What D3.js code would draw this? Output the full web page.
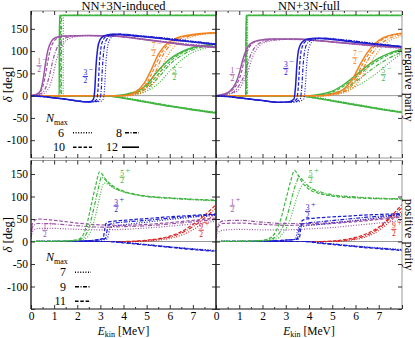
<!DOCTYPE html>
<html>
<head>
<meta charset="utf-8">
<script src="https://cdn.jsdelivr.net/npm/d3@7"></script>
<style>
  body { margin: 0; background: #fff; }
  text { font-family: "Liberation Serif", "Times New Roman", serif; }
</style>
</head>
<body>
<svg id="chart" width="415" height="338"></svg>
<script>
// Nmax values per parity
const nmaxNeg = [6, 8, 10, 12];
const nmaxPos = [7, 9, 11];
const titles = ["NN+3N-induced", "NN+3N-full"];
const energyTicks = [0, 1, 2, 3, 4, 5, 6, 7];
const degTicks = [-100, -50, 0, 50, 100, 150];

// phase shifts [E_kin, delta] -- negative parity, order 6, 8, 10, 12
const indJ1m = [
  [[0,0],[0.5,4],[0.75,15],[0.95,45],[1.1,80],[1.25,103],[1.45,120],[1.75,130],[2.3,134],[3.5,134],[5,126],[6.5,117],[8,111]],
  [[0,0],[0.4,4],[0.6,14],[0.8,45],[0.95,80],[1.1,104],[1.3,122],[1.6,131],[2.2,135],[3.5,134],[5,126],[6.5,116],[8,110]],
  [[0,0],[0.3,4],[0.45,12],[0.6,40],[0.72,75],[0.82,100],[0.97,120],[1.2,130],[1.6,134],[2.5,135],[3.5,134],[5,126],[6.5,116],[8,109]],
  [[0,0],[0.25,3],[0.4,10],[0.52,35],[0.62,70],[0.72,100],[0.87,121],[1.05,130],[1.4,134],[2.5,135],[3.5,134],[5,125],[6.5,115],[8,108]]
];
const indJ3m = [
  [[0,0],[0.5,-2],[1,-5],[1.5,-8],[2,-12],[2.6,-14],[3.0,-13],[3.12,-8],[3.18,15],[3.23,65],[3.3,105],[3.4,125],[3.57,134],[3.9,138],[4.8,134],[5.8,129],[6.8,123],[8,116]],
  [[0,0],[0.5,-2],[1,-5],[1.5,-8],[2,-12],[2.5,-14],[2.85,-13],[2.98,-8],[3.04,15],[3.09,65],[3.16,105],[3.26,125],[3.43,134],[3.8,138],[4.8,134],[5.8,129],[6.8,123],[8,116]],
  [[0,0],[0.5,-2],[1,-5],[1.5,-8],[2,-12],[2.45,-14],[2.72,-13],[2.84,-8],[2.9,15],[2.95,65],[3.02,105],[3.12,125],[3.29,134],[3.65,138],[4.6,134],[5.6,129],[6.6,123],[8,115]],
  [[0,0],[0.5,-2],[1,-5],[1.5,-8],[2,-12],[2.4,-14],[2.6,-13],[2.7,-8],[2.76,15],[2.81,65],[2.88,105],[2.98,125],[3.15,134],[3.5,138],[4.5,134],[5.5,129],[6.5,123],[8,115]]
];
const indJ5mStep = [
  [[0,0],[1.39,0],[1.4,180],[8,180]],
  [[0,0],[1.31,0],[1.32,180],[8,180]],
  [[0,0],[1.26,0],[1.27,180],[8,180]],
  [[0,0],[1.22,0],[1.23,180],[8,180]]
];
const indJ5mDown = [
  [[0,0],[3.4,0],[4,-4],[5,-13],[6,-22],[7,-30],[8,-37]],
  [[0,0],[3.3,0],[4,-5],[5,-14],[6,-23],[7,-31],[8,-38]],
  [[0,0],[3.2,0],[4,-5],[5,-14],[6,-23],[7,-31],[8,-38]],
  [[0,0],[3.2,0],[4,-6],[5,-15],[6,-24],[7,-32],[8,-39]]
];
const indJ5mRise = [
  [[0,0],[4,0],[4.5,3],[5,10],[5.5,27],[6,55],[6.5,80],[7,97],[7.5,106],[8,111]],
  [[0,0],[3.8,0],[4.5,5],[5,16],[5.5,40],[6,70],[6.5,90],[7,103],[7.5,110],[8,114]],
  [[0,0],[3.7,0],[4.5,6],[5,20],[5.5,48],[6,76],[6.5,95],[7,106],[7.5,112],[8,115]],
  [[0,0],[3.6,0],[4.5,8],[5,24],[5.4,50],[6,82],[6.5,98],[7,108],[7.5,113],[8,116]]
];
const indJ7m = [
  [[0,0],[4.2,0],[4.8,6],[5.2,20],[5.55,50],[5.85,85],[6.2,110],[6.6,125],[7,133],[7.5,138],[8,140]],
  [[0,0],[4.1,0],[4.7,7],[5.1,25],[5.4,55],[5.7,90],[6.0,112],[6.4,126],[7,135],[7.5,139],[8,141]],
  [[0,0],[4,0],[4.6,8],[5.0,28],[5.3,58],[5.6,92],[5.9,113],[6.3,127],[7,136],[7.5,139],[8,141]],
  [[0,0],[4,0],[4.5,8],[4.9,28],[5.2,58],[5.5,92],[5.8,113],[6.2,127],[7,137],[7.5,140],[8,141]]
];

const fullJ1m = [
  [[0,0],[0.5,3],[0.9,10],[1.15,28],[1.35,50],[1.5,76],[1.65,96],[1.85,111],[2.2,121],[3,126],[4,125],[5,120],[6,115],[7,110],[8,106]],
  [[0,0],[0.45,3],[0.8,10],[1.05,28],[1.25,50],[1.4,78],[1.55,98],[1.75,113],[2.1,122],[2.8,126],[3.5,126],[4.5,123],[6,116],[7,111],[8,107]],
  [[0,0],[0.35,3],[0.65,10],[0.92,28],[1.08,50],[1.22,80],[1.35,100],[1.52,115],[1.9,124],[2.6,127],[3.5,127],[4.5,123],[6,116],[7,111],[8,107]],
  [[0,0],[0.3,3],[0.6,10],[0.85,28],[1.0,50],[1.15,80],[1.28,100],[1.45,115],[1.8,124],[2.5,127],[3.5,127],[4.5,123],[6,116],[7,112],[8,108]]
];
const fullJ3m = [
  [[0,0],[0.5,-2],[1,-5],[1.5,-8],[2,-11],[2.8,-15],[3.5,-14],[3.77,-8],[3.84,20],[3.9,70],[3.97,102],[4.12,120],[4.37,127],[4.7,129],[5.4,126],[6.4,120],[7.2,115],[8,110]],
  [[0,0],[0.5,-2],[1,-5],[1.5,-8],[2,-11],[2.7,-15],[3.35,-14],[3.62,-8],[3.69,20],[3.75,70],[3.82,102],[3.97,120],[4.22,127],[4.6,129],[5.3,126],[6.3,120],[7.1,115],[8,110]],
  [[0,0],[0.5,-2],[1,-5],[1.5,-8],[2,-11],[2.65,-15],[3.2,-14],[3.47,-8],[3.54,20],[3.6,70],[3.67,102],[3.82,120],[4.07,127],[4.4,129],[5.1,126],[6.1,120],[7,115],[8,110]],
  [[0,0],[0.5,-2],[1,-5],[1.5,-8],[2,-11],[2.6,-15],[3.1,-14],[3.35,-8],[3.42,20],[3.48,70],[3.55,102],[3.7,120],[3.95,127],[4.3,129],[5,126],[6,120],[7,115],[8,110]]
];
const fullJ5mStep = [
  [[0,0],[1.35,0],[1.36,180],[8,180]],
  [[0,0],[1.32,0],[1.33,180],[8,180]],
  [[0,0],[1.3,0],[1.31,180],[8,180]],
  [[0,0],[1.28,0],[1.29,180],[8,180]]
];
const fullJ5mDown = [
  [[0,0],[3.7,0],[4.2,-3],[5,-10],[6,-19],[7,-28],[8,-36]],
  [[0,0],[3.6,0],[4.1,-3],[5,-11],[6,-20],[7,-29],[8,-37]],
  [[0,0],[3.5,0],[4,-3],[5,-12],[6,-21],[7,-30],[8,-38]],
  [[0,0],[3.5,0],[4,-3],[5,-12],[6,-21],[7,-30],[8,-38]]
];
const fullJ5mRise = [
  [[0,0],[4.5,0],[5,3],[5.5,9],[6,20],[6.5,35],[7,54],[7.5,76],[8,95]],
  [[0,0],[4.3,0],[4.8,3],[5.3,10],[5.8,24],[6.3,43],[6.8,63],[7.3,80],[7.7,91],[8,98]],
  [[0,0],[4.1,0],[4.6,3],[5.1,10],[5.6,25],[6.1,45],[6.6,66],[7.1,83],[7.5,93],[8,102]],
  [[0,0],[4,0],[4.5,3],[5,10],[5.5,25],[6,45],[6.5,67],[7,84],[7.5,96],[8,104]]
];
const fullJ7m = [
  [[0,0],[4.8,0],[5.3,4],[5.8,14],[6.2,36],[6.55,66],[6.85,90],[7.15,110],[7.5,124],[8,134]],
  [[0,0],[4.7,0],[5.2,4],[5.7,15],[6.1,40],[6.4,68],[6.7,93],[7.0,112],[7.4,127],[7.8,135],[8,137]],
  [[0,0],[4.6,0],[5.1,4],[5.6,15],[6.0,40],[6.3,70],[6.6,96],[6.9,115],[7.3,130],[7.7,137],[8,139]],
  [[0,0],[4.5,0],[5,4],[5.5,15],[5.9,40],[6.2,70],[6.5,96],[6.8,115],[7.2,130],[7.6,137],[8,140]]
];

// positive parity, order 7, 9, 11
const indJ1p = [
  [[0,5],[0.06,22],[0.3,29],[1,29],[2,27],[3,26],[4,27],[5,30],[6,34],[7,39],[8,45]],
  [[0,8],[0.06,32],[0.3,40],[1,39],[2,35],[3,32],[4,33],[5,35],[6,39],[7,44],[8,49]],
  [[0,10],[0.06,40],[0.3,50],[1,47],[2,41],[3,37],[4,36],[5,38],[6,42],[7,47],[8,52]]
];
const indJ3pUp = [
  [[0,0],[2,1],[3,3],[3.3,6],[3.36,18],[3.42,30],[3.6,34],[4,37],[5,43],[6,49],[7,54],[8,58]],
  [[0,0],[2,1],[3,4],[3.22,7],[3.28,22],[3.34,36],[3.5,40],[4,43],[5,47],[6,52],[7,56],[8,60]],
  [[0,0],[2,1],[2.9,4],[3.12,7],[3.18,25],[3.24,40],[3.4,44],[4,47],[5,51],[6,55],[7,58],[8,61]]
];
const indJ3pDown = [
  [[0,0],[3.4,0],[4,-2],[5,-7],[6,-12],[7,-16],[8,-20]],
  [[0,0],[3.4,0],[4,-2],[5,-7],[6,-12],[7,-17],[8,-21]],
  [[0,0],[3.3,0],[4,-3],[5,-8],[6,-13],[7,-18],[8,-22]]
];
const indJ5p = [
  [[0,0],[1.5,1],[2,2],[2.4,8],[2.6,25],[2.8,60],[3.0,105],[3.15,130],[3.3,128],[3.6,118],[4,110],[4.5,104],[5,100],[6,96],[7,93],[8,91]],
  [[0,0],[1.5,1],[2,3],[2.3,10],[2.5,30],[2.7,70],[2.9,115],[3.05,143],[3.15,140],[3.4,126],[4,111],[4.5,104],[5,100],[6,96],[7,93],[8,91]],
  [[0,0],[1.5,1],[2,4],[2.2,10],[2.4,35],[2.6,80],[2.8,125],[2.97,155],[3.07,150],[3.25,137],[3.5,125],[4,112],[4.5,105],[5,101],[6,97],[7,94],[8,92]]
];
const indJ9p = [
  [[0,0],[4.5,0],[5.5,3],[6,7],[6.5,14],[7,26],[7.5,43],[8,64]],
  [[0,0],[4.2,0],[5,2],[5.5,5],[6,10],[6.5,19],[7,33],[7.5,52],[8,74]],
  [[0,0],[4,0],[5,3],[5.5,6],[6,12],[6.5,22],[7,38],[7.5,58],[8,82]]
];

const fullJ1p = [
  [[0,5],[0.06,18],[0.3,25],[1,27],[2,26],[3,26],[4,28],[5,31],[6,36],[7,41],[8,47]],
  [[0,8],[0.06,35],[0.3,46],[1,47],[2,43],[3,40],[4,40],[5,42],[6,46],[7,51],[8,56]],
  [[0,8],[0.06,30],[0.3,40],[1,41],[2,38],[3,36],[4,37],[5,40],[6,44],[7,49],[8,54]]
];
const fullJ3pUp = [
  [[0,0],[2,1],[3,3],[3.42,5],[3.48,18],[3.55,30],[3.8,34],[4.5,38],[5.5,44],[6.5,50],[7.5,56],[8,58]],
  [[0,0],[2,1],[3,3],[3.5,6],[3.56,22],[3.62,36],[3.8,40],[4.5,44],[5.5,49],[6.5,54],[7.5,58],[8,60]],
  [[0,0],[2,1],[3,3],[3.58,6],[3.64,28],[3.7,46],[3.9,50],[4.5,53],[5.5,56],[6.5,59],[7.5,61],[8,62]]
];
const fullJ3pDown = [
  [[0,0],[3.9,0],[4.5,-3],[5.5,-8],[6.5,-12],[7.5,-16],[8,-18]],
  [[0,0],[3.8,0],[4.5,-3],[5.5,-8],[6.5,-13],[7.5,-17],[8,-19]],
  [[0,0],[3.8,0],[4.5,-4],[5.5,-9],[6.5,-14],[7.5,-18],[8,-20]]
];
const fullJ5p = [
  [[0,0],[2,1],[2.6,6],[2.9,20],[3.2,50],[3.4,85],[3.6,115],[3.75,127],[3.9,124],[4.2,114],[4.6,106],[5,102],[6,98],[7,96],[8,95]],
  [[0,0],[2,2],[2.5,8],[2.8,25],[3.05,55],[3.25,95],[3.45,130],[3.58,144],[3.72,137],[4,122],[4.5,110],[5,104],[6,99],[7,96],[8,95]],
  [[0,0],[1.5,1],[2,3],[2.4,10],[2.6,25],[2.8,52],[3.0,92],[3.2,132],[3.38,158],[3.5,150],[3.7,132],[4,116],[4.5,106],[5,101],[6,97],[7,95],[8,94]]
];
const fullJ9p = [
  [[0,0],[5,0],[5.8,3],[6.3,8],[6.8,18],[7.2,32],[7.6,50],[8,68]],
  [[0,0],[4.8,0],[5.6,3],[6.2,9],[6.7,19],[7.1,33],[7.5,52],[8,75]],
  [[0,0],[4.5,0],[5.5,4],[6,9],[6.5,18],[7,32],[7.5,55],[8,82]]
];

// channel labels: [channel, 2J, parity sign, E, delta]
const labelsIndNeg = [["j1","1","\u2212",0.35,67],["j3","3","\u2212",2.35,43],["j7","7","\u2212",5.3,103],["j5","5","\u2212",6.2,49]];
const labelsFullNeg = [["j1","1","\u2212",0.7,47],["j3","3","\u2212",3.0,61],["j7","7","\u2212",5.97,85],["j5","5","\u2212",7.2,47]];
const labelsIndPos = [["j5","5","+",3.94,143],["j3","3","+",3.68,79],["j1","1","+",0.6,25],["j9","9","+",7.36,25]];
const labelsFullPos = [["j5","5","+",4.07,143],["j3","3","+",3.94,67],["j1","1","+",0.7,79],["j9","9","+",7.65,27]];

const colors = { j1: "#9b55a6", j3: "#1c1cd0", j5: "#3fb53f", j7: "#f28220", j9: "#d82222" };
const dashes = { 6: "1,1.6", 7: "1,1.6", 8: "4,1.5,1,1.5", 9: "4,1.5,1,1.5", 10: "3.5,1.8", 11: "3.5,1.8", 12: null };

const svg = d3.select("#chart");

const xLeft = d3.scaleLinear().domain([0, 8]).range([31, 216]);
const xRight = d3.scaleLinear().domain([0, 8]).range([216, 402]);
const yTop = d3.scaleLinear().domain([-140, 190]).range([158, 11]);
const yBot = d3.scaleLinear().domain([-150, 180]).range([309, 160.5]);

let clipId = 0;
function panel(x, y, channels, nmaxList, labels, showY, showX) {
  const g = svg.append("g");
  const [x0, x1] = x.range();
  const [y1, y0] = y.range();
  const id = "clip" + (clipId++);
  g.append("clipPath").attr("id", id).append("rect")
    .attr("x", x0).attr("y", y0).attr("width", x1 - x0).attr("height", y1 - y0);

  g.append("line").attr("x1", x0).attr("x2", x1).attr("y1", y(0)).attr("y2", y(0))
    .attr("stroke", "#999").attr("stroke-width", 1);

  const line = d3.line().x(d => x(d[0])).y(d => y(d[1])).curve(d3.curveMonotoneX);
  const plot = g.append("g").attr("clip-path", `url(#${id})`);
  channels.forEach(([key, curves]) => {
    curves.forEach((pts, i) => {
      const n = nmaxList[i];
      plot.append("path")
        .attr("d", line(pts))
        .attr("fill", "none")
        .attr("stroke", colors[key])
        .attr("stroke-width", dashes[n] ? 1.2 : 1.5)
        .attr("stroke-dasharray", dashes[n]);
    });
  });

  // frame
  g.append("line").attr("x1", x0).attr("x2", x1).attr("y1", y0).attr("y2", y0).attr("stroke", "#999");
  g.append("line").attr("x1", x1).attr("x2", x1).attr("y1", y0).attr("y2", y1).attr("stroke", "#999");
  g.append("line").attr("x1", x0).attr("x2", x1).attr("y1", y1).attr("y2", y1)
    .attr("stroke", showX ? "#111" : "#999").attr("stroke-width", showX ? 1.2 : 1);

  // ticks
  const xMajor = d3.range(0, 8.01, 1), xMinor = d3.range(0.5, 8, 1);
  const yMajor = y.ticks(10).filter(v => v % 50 === 0), yMinor = y.ticks(20).filter(v => v % 50 !== 0 && v % 25 === 0);
  const fmtNone = () => "";
  const styleAxis = a => { a.select(".domain").remove(); a.selectAll("line").attr("stroke", "#333"); };

  g.append("g").attr("transform", `translate(0,${y1})`)
    .call(d3.axisBottom(x).tickValues(xMajor).tickSize(-4).tickFormat(fmtNone)).call(styleAxis);
  g.append("g").attr("transform", `translate(0,${y1})`)
    .call(d3.axisBottom(x).tickValues(xMinor).tickSize(-2).tickFormat(fmtNone)).call(styleAxis);
  g.append("g").attr("transform", `translate(0,${y0})`)
    .call(d3.axisTop(x).tickValues(xMajor).tickSize(-4).tickFormat(fmtNone)).call(styleAxis);
  g.append("g").attr("transform", `translate(0,${y0})`)
    .call(d3.axisTop(x).tickValues(xMinor).tickSize(-2).tickFormat(fmtNone)).call(styleAxis);
  g.append("g").attr("transform", `translate(${x0},0)`)
    .call(d3.axisLeft(y).tickValues(yMajor).tickSize(-4).tickFormat(fmtNone)).call(styleAxis);
  g.append("g").attr("transform", `translate(${x0},0)`)
    .call(d3.axisLeft(y).tickValues(yMinor).tickSize(-2).tickFormat(fmtNone)).call(styleAxis);
  g.append("g").attr("transform", `translate(${x1},0)`)
    .call(d3.axisRight(y).tickValues(yMajor).tickSize(-4).tickFormat(fmtNone)).call(styleAxis);
  g.append("g").attr("transform", `translate(${x1},0)`)
    .call(d3.axisRight(y).tickValues(yMinor).tickSize(-2).tickFormat(fmtNone)).call(styleAxis);

  if (showX) {
    g.append("g").attr("transform", `translate(0,${y1})`)
      .call(d3.axisBottom(x).tickValues(energyTicks).tickSize(0).tickPadding(3).tickFormat(d => String(d)))
      .call(a => a.select(".domain").remove())
      .attr("font-family", "Liberation Serif, serif").attr("font-size", 11.5);
  }
  if (showY) {
    g.append("g").attr("transform", `translate(${x0},0)`)
      .call(d3.axisLeft(y).tickValues(degTicks).tickSize(0).tickPadding(3).tickFormat(d => String(d)))
      .call(a => a.select(".domain").remove())
      .attr("font-family", "Liberation Serif, serif").attr("font-size", 11.5);
  }

  // left frame (dark)
  g.append("line").attr("x1", x0).attr("x2", x0).attr("y1", y0).attr("y2", y1)
    .attr("stroke", "#111").attr("stroke-width", 1.3);

  // channel labels as fractions
  labels.forEach(([key, num, sign, e, d]) => {
    const lg = g.append("g").attr("transform", `translate(${x(e)},${y(d)})`)
      .attr("fill", colors[key]).attr("font-size", 7.5);
    lg.append("text").attr("text-anchor", "middle").attr("y", -1.3).text(num);
    lg.append("line").attr("x1", -2.6).attr("x2", 2.6).attr("y1", 0).attr("y2", 0)
      .attr("stroke", colors[key]).attr("stroke-width", 0.9);
    lg.append("text").attr("text-anchor", "middle").attr("y", 6.3).text("2");
    lg.append("text").attr("x", 3.5).attr("y", -4).attr("font-size", 8).text(sign);
  });
}

panel(xLeft, yTop, [["j5", indJ5mStep], ["j5", indJ5mDown], ["j5", indJ5mRise], ["j7", indJ7m], ["j1", indJ1m], ["j3", indJ3m]], nmaxNeg, labelsIndNeg, true, false);
panel(xRight, yTop, [["j5", fullJ5mStep], ["j5", fullJ5mDown], ["j5", fullJ5mRise], ["j7", fullJ7m], ["j1", fullJ1m], ["j3", fullJ3m]], nmaxNeg, labelsFullNeg, false, false);
panel(xLeft, yBot, [["j9", indJ9p], ["j1", indJ1p], ["j3", indJ3pDown], ["j3", indJ3pUp], ["j5", indJ5p]], nmaxPos, labelsIndPos, true, true);
panel(xRight, yBot, [["j9", fullJ9p], ["j1", fullJ1p], ["j3", fullJ3pDown], ["j3", fullJ3pUp], ["j5", fullJ5p]], nmaxPos, labelsFullPos, false, true);

// titles
titles.forEach((t, i) => {
  const x = i === 0 ? xLeft : xRight;
  svg.append("text").attr("x", (x.range()[0] + x.range()[1]) / 2).attr("y", 9.5)
    .attr("text-anchor", "middle").attr("font-size", 12.5).text(t);
});

// y labels
[yTop, yBot].forEach(y => {
  const cy = (y.range()[0] + y.range()[1]) / 2;
  const t = svg.append("text").attr("transform", `translate(12,${cy}) rotate(-90)`)
    .attr("text-anchor", "middle").attr("font-size", 12.5);
  t.append("tspan").attr("font-style", "italic").text("\u03b4");
  t.append("tspan").text("  [deg]");
});

// x labels
[xLeft, xRight].forEach(x => {
  const cx = (x.range()[0] + x.range()[1]) / 2;
  const t = svg.append("text").attr("x", cx).attr("y", 334.5).attr("text-anchor", "middle").attr("font-size", 11.5);
  t.append("tspan").attr("font-style", "italic").text("E");
  t.append("tspan").attr("font-size", 8).attr("dy", 2.5).text("kin");
  t.append("tspan").attr("dy", -2.5).text(" [MeV]");
});

// parity labels on the right
[["negative parity", yTop], ["positive parity", yBot]].forEach(([s, y]) => {
  const cy = (y.range()[0] + y.range()[1]) / 2;
  svg.append("text").attr("transform", `translate(405,${cy}) rotate(90)`)
    .attr("text-anchor", "middle").attr("font-size", 12.5).text(s);
});

// legends
function nmaxTitle(x, yb) {
  const t = svg.append("text").attr("x", x).attr("y", yb).attr("font-size", 12);
  t.append("tspan").attr("font-style", "italic").text("N");
  t.append("tspan").attr("font-size", 8).attr("dy", 2.5).text("max");
}
function legendEntry(n, numRight, yb, sx0, sx1) {
  svg.append("text").attr("x", numRight).attr("y", yb).attr("text-anchor", "end").attr("font-size", 12).text(n);
  svg.append("line").attr("x1", sx0).attr("x2", sx1).attr("y1", yb - 3.8).attr("y2", yb - 3.8)
    .attr("stroke", "#000").attr("stroke-width", 1.6).attr("stroke-dasharray", dashes[n]);
}
nmaxTitle(46, 122);
legendEntry(nmaxNeg[0], 64, 136.5, 73, 92);
legendEntry(nmaxNeg[1], 122, 136.5, 125, 139);
legendEntry(nmaxNeg[2], 65, 151, 73, 92);
legendEntry(nmaxNeg[3], 118, 151, 122, 139);
nmaxTitle(46, 261);
nmaxPos.forEach((n, i) => legendEntry(n, 66, 276 + i * 14.5, 75, 91));
</script>
</body>
</html>
